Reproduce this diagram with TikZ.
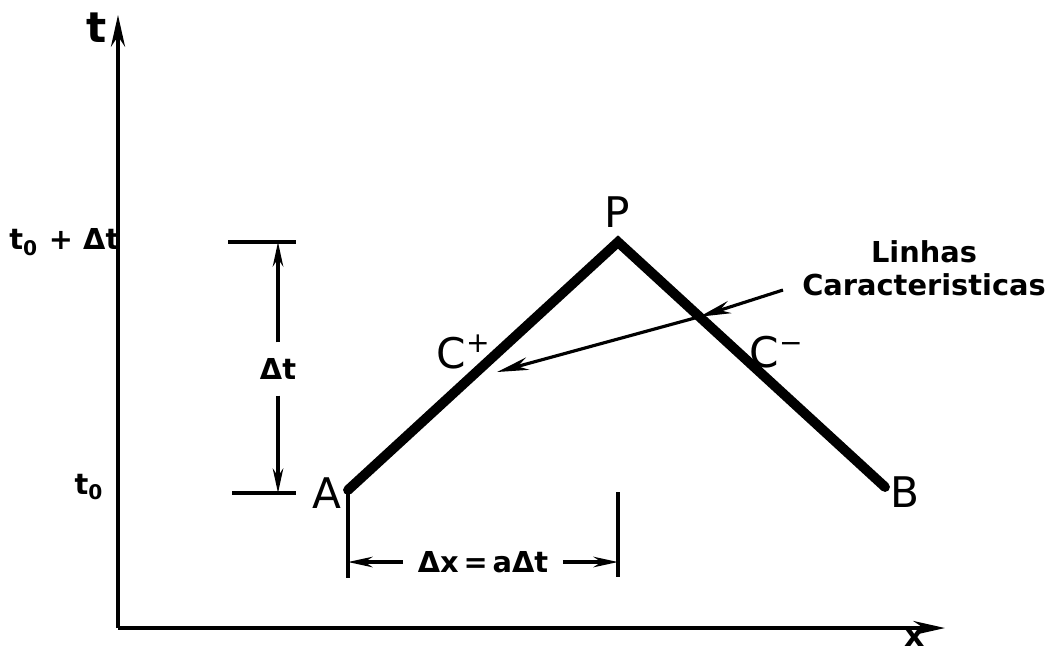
\documentclass[tikz,border=0pt]{standalone}
\usepackage{fontspec}
\setmainfont{DejaVu Sans}
\usetikzlibrary{arrows.meta,calc}

\tikzset{
  axis/.style={line width=1.1pt,-{Stealth[length=9pt,width=4pt]}},
  charline/.style={line width=2.8pt,line cap=round},
  dimline/.style={line width=0.9pt},
  dimarrow/.style={line width=0.9pt,-{Stealth[length=7pt,width=3pt]}},
  leader/.style={line width=0.9pt,-{Stealth[length=9pt,width=3.6pt]}},
  pointlabel/.style={font=\fontsize{12}{14}\selectfont},
  axislabel/.style={font=\bfseries\fontsize{12}{14}\selectfont,inner sep=0pt},
  smalllabel/.style={font=\bfseries\fontsize{8.2}{9.4}\selectfont},
}

\begin{document}
\begin{tikzpicture}[x=0.01cm,y=-0.01cm]
  \useasboundingbox (0,0) rectangle (1049,650);
  % axes
  \coordinate (o) at (118,628);
  \coordinate (tend) at (118,15);
  \coordinate (xend) at (945,628);
  \draw[axis] (o) -- (tend);
  \draw[axis] (o) -- (xend);
  \node[axislabel] (tlab) at (97,28) {t};
  \node[axislabel,font=\bfseries\fontsize{9}{11}\selectfont,anchor=south] (xlab) at (915,647) {x};
  % characteristic lines
  \coordinate (a) at (348,490);
  \coordinate (p) at (618,242);
  \coordinate (b) at (885,487);
  \draw[charline] (a) -- (p) -- (b);
  \node[pointlabel] (alab) at (327,493) {A};
  \node[pointlabel] (plab) at (617,212) {P};
  \node[pointlabel] (blab) at (905,492) {B};
  \node[pointlabel] (cplus) at (464,352) {C\textsuperscript{+}};
  \node[pointlabel] (cminus) at (777,352) {C\textsuperscript{−}};
  % time levels
  \node[smalllabel,anchor=east,inner sep=0pt] (tnext) at (120,242) {t\textsubscript{0} + Δt};
  \node[smalllabel,anchor=east,inner sep=0pt] (tzero) at (105,487) {t\textsubscript{0}};
  % dimension dt
  \coordinate (dttop) at (278,242);
  \coordinate (dtbot) at (278,493);
  \draw[dimline] (228,242) -- (296,242);
  \draw[dimline] (232,493) -- (296,493);
  \node[smalllabel,minimum height=0.52cm,inner sep=0pt] (dt) at (278,369) {Δt};
  \draw[dimarrow] (dt.north) -- (dttop);
  \draw[dimarrow] (dt.south) -- (dtbot);
  % dimension dx
  \coordinate (dxl) at (348,562);
  \coordinate (dxr) at (618,562);
  \draw[dimline] (a) -- (348,578);
  \draw[dimline] (618,492) -- (618,577);
  \node[smalllabel,inner sep=4pt] (dx) at (483,562) {Δx\,=\,aΔt};
  \draw[dimarrow] (dx.west) -- (dxl);
  \draw[dimarrow] (dx.east) -- (dxr);
  % label
  \node[smalllabel,align=center] (linhas) at (924,268) {Linhas\\Caracteristicas};
  \coordinate (lstart) at (783,290);
  \coordinate (cx) at ($(p)!0.305!(b)$);
  \coordinate (cp) at (497,372);
  \draw[leader] (lstart) -- (cx);
  \draw[leader] (cx) -- (cp);
\end{tikzpicture}
\end{document}
